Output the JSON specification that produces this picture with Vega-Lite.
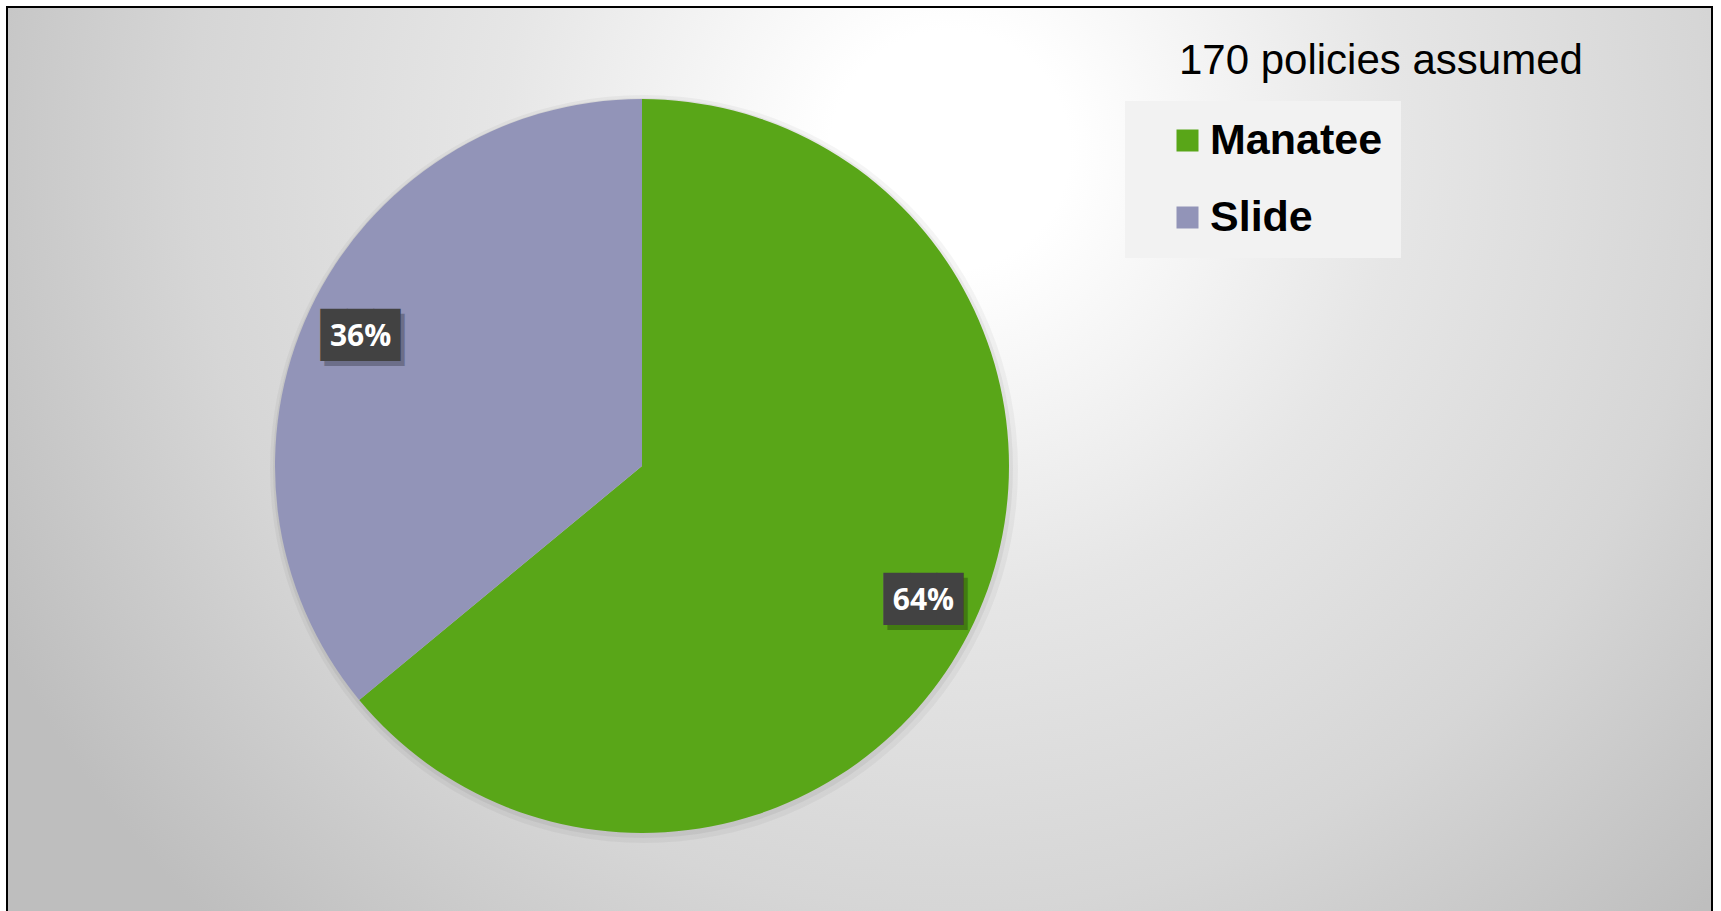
{
  "$schema": "https://vega.github.io/schema/vega-lite/v6.json",
  "width": 1721,
  "height": 911,
  "autosize": {"type": "fit", "contains": "padding"},
  "padding": {"left": 6, "top": 6, "right": 8, "bottom": -4},
  "background": "#ffffff",
  "config": {"view": {"stroke": null}},
  "title": {
    "text": "170 policies assumed",
    "orient": "none",
    "anchor": "start",
    "frame": "group",
    "offset": 0,
    "baseline": "alphabetic",
    "align": "left",
    "dx": 1172,
    "dy": 67,
    "font": "Liberation Sans",
    "fontSize": 42,
    "fontWeight": "normal",
    "color": "#000000"
  },
  "datasets": {
    "shares": [
      {"category": "Manatee", "share": 0.64},
      {"category": "Slide", "share": 0.36}
    ],
    "whole": [
      {"share": 1}
    ]
  },
  "layer": [
    {
      "data": {"values": [{}]},
      "mark": {
        "type": "rect",
        "stroke": "#000000",
        "strokeWidth": 2,
        "fill": {
          "gradient": "radial",
          "x1": 0.553, "y1": 0.318, "r1": 0.0,
          "x2": 0.553, "y2": 0.318, "r2": 0.644,
          "stops": [
            {"offset": 0, "color": "#ffffff"},
            {"offset": 0.109, "color": "#ffffff"},
            {"offset": 0.409, "color": "#e6e6e6"},
            {"offset": 0.691, "color": "#d6d6d6"},
            {"offset": 0.973, "color": "#bebebe"},
            {"offset": 1, "color": "#bebebe"}
          ]
        }
      },
      "encoding": {}
    },
    {
      "data": {"name": "whole"},
      "mark": {"type": "arc", "outerRadius": 374, "x": 637, "y": 462, "color": "#000000", "opacity": 0.04},
      "encoding": {
        "theta": {"field": "share", "type": "quantitative", "stack": true}
      }
    },
    {
      "data": {"name": "whole"},
      "mark": {"type": "arc", "outerRadius": 370, "x": 636, "y": 461, "color": "#000000", "opacity": 0.05},
      "encoding": {
        "theta": {"field": "share", "type": "quantitative", "stack": true}
      }
    },
    {
      "data": {"name": "shares"},
      "mark": {"type": "arc", "outerRadius": 367, "x": 635, "y": 459},
      "encoding": {
        "theta": {"field": "share", "type": "quantitative", "stack": true},
        "order": {"field": "category", "type": "nominal"},
        "color": {
          "field": "category",
          "type": "nominal",
          "scale": {"domain": ["Manatee", "Slide"], "range": ["#59A618", "#9294B8"]},
          "legend": {
            "title": null,
            "orient": "none",
            "legendX": 1118,
            "legendY": 94,
            "fillColor": "#f2f2f2",
            "padding": 18,
            "symbolOffset": 23,
            "symbolType": "square",
            "symbolSize": 484,
            "symbolStrokeWidth": 0,
            "labelFont": "Liberation Sans",
            "labelFontWeight": "bold",
            "labelFontSize": 43,
            "labelColor": "#000000",
            "labelOffset": 1,
            "rowPadding": 33,
            "labelLimit": 400,
            "labelExpr": "datum.label + '\u2002\u2009'"
          }
        }
      }
    },
    {
      "data": {"name": "shares"},
      "mark": {"type": "text", "text": "███", "font": "DejaVu Sans Mono", "fontSize": 44, "x": 635, "y": 459, "radius": 311, "dx": 4, "dy": 8, "color": "#000000", "opacity": 0.25, "align": "center", "baseline": "middle"},
      "encoding": {
        "theta": {"field": "share", "type": "quantitative", "stack": true},
        "order": {"field": "category", "type": "nominal"},
        "detail": {"field": "category", "type": "nominal"}
      }
    },
    {
      "data": {"name": "shares"},
      "mark": {"type": "text", "text": "███", "font": "DejaVu Sans Mono", "fontSize": 44, "x": 635, "y": 459, "radius": 311, "dy": 3, "color": "#424242", "align": "center", "baseline": "middle"},
      "encoding": {
        "theta": {"field": "share", "type": "quantitative", "stack": true},
        "order": {"field": "category", "type": "nominal"},
        "detail": {"field": "category", "type": "nominal"}
      }
    },
    {
      "data": {"name": "shares"},
      "mark": {"type": "text", "font": "Open Sans", "fontWeight": "bold", "fontSize": 30, "x": 635, "y": 459, "radius": 311, "dy": 3, "color": "#ffffff", "align": "center", "baseline": "middle"},
      "encoding": {
        "theta": {"field": "share", "type": "quantitative", "stack": true},
        "order": {"field": "category", "type": "nominal"},
        "detail": {"field": "category", "type": "nominal"},
        "text": {"field": "share", "type": "quantitative", "format": ".0%"}
      }
    }
  ]
}
